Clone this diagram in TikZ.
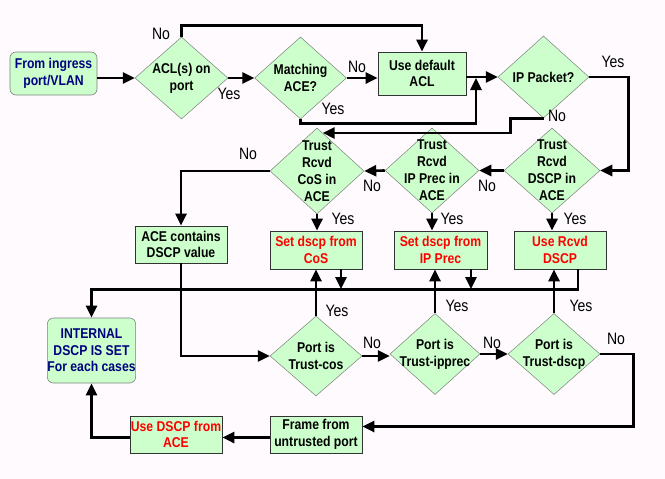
\documentclass[tikz,border=0pt]{standalone}
\usepackage{fontspec}
\setmainfont{Liberation Sans}
\newfontfamily\boxfont[FakeStretch=0.86]{Liberation Sans}
\newfontfamily\ynfont[FakeStretch=0.85]{Liberation Sans}
\usepackage{xcolor}
\usetikzlibrary{arrows.meta, positioning, shapes.geometric, calc}
\definecolor{bgpink}{HTML}{FEFAFE}
\definecolor{boxgreen}{HTML}{CCFFCC}
\definecolor{navytext}{HTML}{000080}
\definecolor{redtext}{HTML}{FF0000}
\definecolor{dialine}{HTML}{7F7F7F}

\begin{document}
\begin{tikzpicture}[x=1pt, y=-1pt,
    box/.style={draw=black!80, line width=0.6pt, fill=boxgreen, rectangle, inner sep=0pt, minimum width=92pt, minimum height=38pt, align=center, font=\boxfont\bfseries\fontsize{14.2}{16.5}\selectfont},
    rbox/.style={box, rounded corners=6pt, draw=dialine, text=navytext},
    dia/.style={draw=dialine, line width=0.5pt, fill=boxgreen, diamond, inner sep=0pt, minimum width=93pt, minimum height=84pt},
    dtxt/.style={align=center, inner sep=0pt, font=\boxfont\bfseries\fontsize{14.2}{17}\selectfont},
    redtxt/.style={text=redtext},
    yn/.style={font=\ynfont\fontsize{16.5}{16.5}\selectfont, inner sep=0pt},
    arr/.style={line width=2.6pt, -{Triangle[length=12pt,width=11pt]}},
    ln/.style={line width=2.6pt}
]
    \fill[bgpink] (0,0) rectangle (665,479);

    \node[rbox, minimum width=87pt, minimum height=43pt] (ingress) at (53.5,73.5) {From ingress\\port/VLAN};
    \node[dia, minimum height=82pt, label={[dtxt]center:{ACL(s) on\\port}}] (acl) at (181.5,78) {};
    \node[dia, minimum width=92pt, minimum height=82pt, label={[dtxt]center:{Matching\\ACE?}}] (match) at (300.5,78) {};
    \node[box, minimum width=88pt, minimum height=43pt] (deflt) at (422,73.5) {Use default\\ACL};
    \node[dia, minimum width=91pt, minimum height=82pt, label={[dtxt]center:{IP Packet?}}] (ip) at (543.5,77) {};

    \node[dia, minimum width=94pt, minimum height=86pt, label={[dtxt]center:{Trust\\Rcvd\\CoS in\\ACE}}] (cosT) at (317,171) {};
    \node[dia, minimum width=94pt, minimum height=85pt, label={[dtxt]center:{Trust\\Rcvd\\IP Prec in\\ACE}}] (precT) at (432,170.5) {};
    \node[dia, minimum width=96pt, minimum height=85pt, label={[dtxt]center:{Trust\\Rcvd\\DSCP in\\ACE}}] (dscpT) at (552,170.5) {};

    \node[box, minimum height=37pt] (aceBox) at (181,244.5) {ACE contains\\DSCP value};
    \node[box, redtxt] (setCos) at (316,250) {Set dscp from\\CoS};
    \node[box, redtxt, minimum width=93pt] (setPrec) at (440.5,250) {Set dscp from\\IP Prec};
    \node[box, redtxt] (useRcvd) at (560,250) {Use Rcvd\\DSCP};

    \node[rbox, minimum width=87pt, minimum height=65pt] (internal) at (91.5,350.5) {INTERNAL\\DSCP IS SET\\For each cases};
    \node[dia, minimum width=92pt, minimum height=80pt, label={[dtxt]center:{Port is\\Trust-cos}}] (portCos) at (316,356) {};
    \node[dia, minimum width=90pt, minimum height=81pt, label={[dtxt]center:{Port is\\Trust-ipprec}}] (portPrec) at (435,354) {};
    \node[dia, minimum width=92pt, minimum height=81pt, label={[dtxt]center:{Port is\\Trust-dscp}}] (portDscp) at (554,354) {};

    \node[box, minimum height=37pt] (frame) at (316,434.5) {Frame from\\untrusted port};
    \node[box, redtxt, minimum height=37pt] (useAce) at (176,434.5) {Use DSCP from\\ACE};

    \coordinate (mj) at (476,78);
    \coordinate (cosIn) at ($(cosT.north)!0.12!(cosT.east)$);
    \coordinate (busY) at (0,289);

    \draw[arr] (acl.west -| ingress.east) -- (acl.west);
    \draw[arr] (acl.north) -- ++(0,-11) -| (deflt.north);
    \draw[arr] (acl.east) -- (match.west);
    \draw[arr] (match.east) -- (match.east -| deflt.west);
    \draw[arr] (ip.west -| deflt.east) -- (ip.west);
    \draw[arr] (match.south) -- ++(0,4) -| (mj);
    \draw[arr] (ip.east) -- ++(39,0) |- (dscpT.east);
    \draw[arr] (ip.south) -| ($(cosIn)+(188,0)$) -- (cosIn);

    \draw[arr] (dscpT.west) -- (precT.east);
    \draw[arr] (precT.west) -- (cosT.east);
    \draw[arr] (cosT.west) -| (aceBox.north);
    \draw[arr] (cosT.south) -- (cosT.south |- setCos.north);
    \draw[arr] (precT.south) -- (precT.south |- setPrec.north);
    \draw[arr] (dscpT.south) -- (dscpT.south |- useRcvd.north);

    \draw[arr] (useRcvd.south) ++(18,0) -- ++(0,20) -| (internal.north);
    \draw[arr] (setCos.south) ++(25,0) coordinate (c1) -- (c1 |- busY);
    \draw[arr] (setPrec.south) ++(30.5,0) coordinate (c2) -- (c2 |- busY);
    \draw[arr] (aceBox.south) |- (portCos.west);

    \draw[arr] (portCos.north) -- (portCos.north |- setCos.south);
    \draw[arr] (portPrec.north) -- (portPrec.north |- setPrec.south);
    \draw[arr] (portDscp.north) -- (portDscp.north |- useRcvd.south);
    \draw[arr] (portCos.east) -- (portCos.east -| portPrec.west);
    \draw[arr] (portPrec.east) -- (portDscp.west);
    \draw[arr] (portDscp.east) -- ++(33,0) |- ($(frame.east)+(0,-8)$);
    \draw[arr] ($(frame.west)+(0,3)$) -- ($(useAce.east)+(0,3)$);
    \draw[arr] ($(useAce.west)+(0,3)$) -| (internal.south);

    \node[yn] (noAcl) at (161,34) {No};
    \node[yn] (yesAcl) at (229,94) {Yes};
    \node[yn] (noMatch) at (357,67) {No};
    \node[yn] (yesMatch) at (333,109) {Yes};
    \node[yn] (yesIp) at (613,62) {Yes};
    \node[yn] (noIp) at (557,116) {No};
    \node[yn] (noCos) at (248,154) {No};
    \node[yn] (noDscp) at (487,186) {No};
    \node[yn] (noPrec) at (372,186) {No};
    \node[yn] (yesCos) at (343,219) {Yes};
    \node[yn] (yesPrec) at (452,219) {Yes};
    \node[yn] (yesDscp) at (575,219) {Yes};
    \node[yn] (yesPortCos) at (337,311) {Yes};
    \node[yn] (yesPortPrec) at (457,306) {Yes};
    \node[yn] (yesPortDscp) at (581,306) {Yes};
    \node[yn] (noPortCos) at (372,343) {No};
    \node[yn] (noPortPrec) at (492,343) {No};
    \node[yn] (noPortDscp) at (616,339) {No};
\end{tikzpicture}
\end{document}
